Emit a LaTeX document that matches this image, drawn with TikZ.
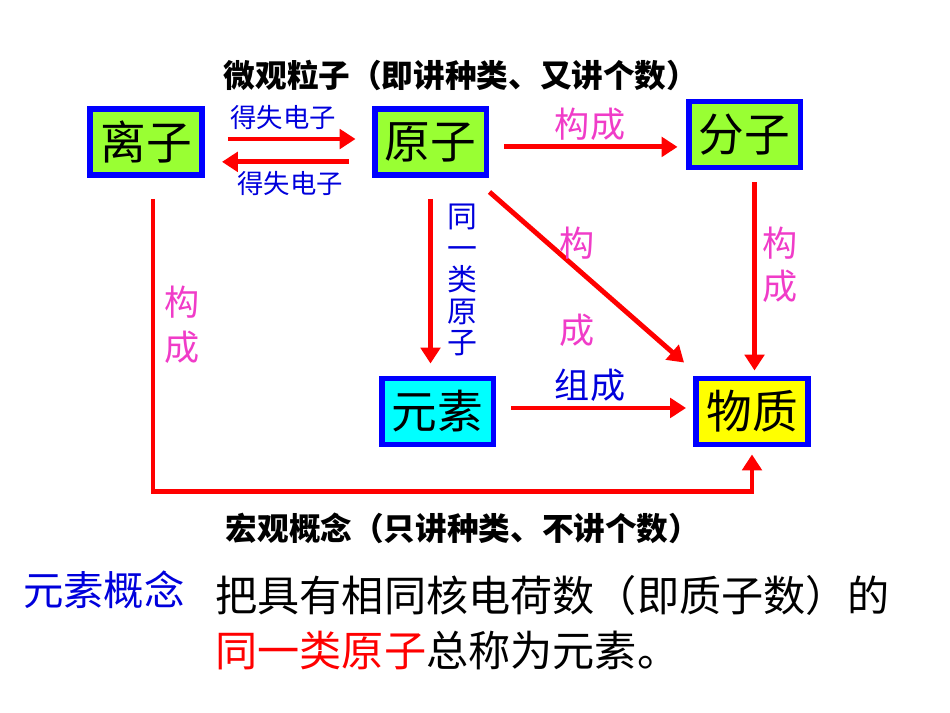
\documentclass[tikz,border=0pt]{standalone}
\usepackage{fontspec}
\setmainfont{Noto Sans CJK SC}
\usepackage{tikz}
\usetikzlibrary{
  arrows.meta,
  positioning,
  calc
}
\definecolor{boxborder}{RGB}{0, 0, 255}
\definecolor{particlecolor}{RGB}{153, 255, 51}
\definecolor{elementcolor}{RGB}{0, 255, 255}
\definecolor{mattercolor}{RGB}{255, 255, 0}
\definecolor{arrowcolor}{RGB}{255, 0, 0}
\definecolor{buildcolor}{RGB}{240, 60, 200}
\definecolor{notecolor}{RGB}{0, 0, 220}
\definecolor{labelcolor}{RGB}{0, 0, 0}
\tikzset{
conceptblock/.style={
  draw=boxborder,
  line width=3.4pt,
  minimum height=1.32cm,
  minimum width=2.24cm,
  inner sep=0pt,
  font=\fontsize{26}{30}\selectfont,
  text=labelcolor
},
particleblock/.style={
  conceptblock,
  fill=particlecolor
},
elementblock/.style={
  conceptblock,
  fill=elementcolor
},
matterblock/.style={
  conceptblock,
  fill=mattercolor
},
titlelabel/.style={
  font=\bfseries\fontsize{18}{21}\selectfont,
  text=labelcolor,
  inner sep=0pt
},
electronlabel/.style={
  font=\fontsize{15}{18}\selectfont,
  text=notecolor,
  inner sep=0pt
},
buildlabel/.style={
  font=\fontsize{20}{24}\selectfont,
  text=buildcolor,
  inner sep=0pt,
  align=center
},
notelabel/.style={
  font=\fontsize{20}{24}\selectfont,
  text=notecolor,
  inner sep=0pt,
  align=center
},
arrow/.style={
  -{Triangle[length=9pt,width=11pt]},
  line width=2.8pt,
  draw=arrowcolor
}
}

\begin{document}
\begin{tikzpicture}[x=0.02cm, y=-0.02cm]
  \useasboundingbox (0,0) rectangle (950,713);

  % concept boxes
  \node[particleblock] (lizi) at (146,142) {离子};
  \node[particleblock] (yuanzi) at (430.5,142) {原子};
  \node[particleblock] (fenzi) at (744.5,134.5) {分子};
  \node[elementblock] (yuansu) at (437.5,411.5) {元素};
  \node[matterblock] (wuzhi) at (752,411.5) {物质};

  % connectors
  \draw[arrow, shorten <=0.46cm, shorten >=0.32cm] ([yshift=1.7pt]lizi.east) -- ([yshift=1.7pt]yuanzi.west);
  \draw[arrow, shorten <=0.46cm, shorten >=0.34cm] ([yshift=-11.3pt]yuanzi.west) -- ([yshift=-11.3pt]lizi.east);
  \coordinate (molstart) at ([yshift=-2.8pt]yuanzi.east);
  \draw[arrow, shorten <=0.3cm, shorten >=0.16cm] (molstart) -- (molstart -| fenzi.west);
  \coordinate (molend) at ([xshift=5.7pt]fenzi.south);
  \draw[arrow, shorten <=0.24cm, shorten >=0.1cm] (molend) -- (molend |- wuzhi.north);
  \draw[arrow, shorten <=0.42cm, shorten >=0.24cm] (yuanzi.south) -- (yuanzi.south |- yuansu.north);
  \draw[arrow] ($(yuanzi.south east)+(0,14)$) -- ($(wuzhi.north west)+(-9,-13)$);
  \coordinate (elemstart) at ([yshift=2pt]yuansu.east);
  \draw[arrow, shorten <=0.3cm, shorten >=0.14cm] (elemstart) -- (elemstart -| wuzhi.west);
  \coordinate (ionstart) at ([xshift=4pt]lizi.south);
  \draw[arrow, shorten <=0.42cm, shorten >=0.14cm] (ionstart) |- ($(wuzhi.south)+(0,44)$) -- (wuzhi.south);

  % labels
  \node[titlelabel] (microtitle) at (461,75) {微观粒子（即讲种类、又讲个数）};
  \node[electronlabel] (gaintop) at (283,117) {得失电子};
  \node[electronlabel] (gainbottom) at (290,183) {得失电子};
  \node[buildlabel] (buildmol) at (590,124) {构成};
  \node[buildlabel, font=\fontsize{20}{24.5}\selectfont] (buildright) at (780,265) {构\\成};
  \node[buildlabel] (buildtop) at (577,243) {构};
  \node[buildlabel] (buildbottom) at (577,330) {成};
  \node[buildlabel, font=\fontsize{20}{25.5}\selectfont] (buildleft) at (182,324.5) {构\\成};
  \node[notelabel, font=\fontsize{17}{17.9}\selectfont] (sameatom) at (462,280) {同\\一\\类\\原\\子};
  \node[notelabel] (compose) at (590,385) {组成};
  \node[titlelabel] (macrotitle) at (463,528) {宏观概念（只讲种类、不讲个数）};

  % definition
  \node[notelabel, font=\fontsize{23}{27}\selectfont] (defname) at (104,590) {元素概念};
  \node[anchor=west, align=left, inner sep=0pt, text=labelcolor,
        font=\fontsize{24}{31}\selectfont] (deftext) at (215,622.5)
    {把具有相同核电荷数（即质子数）的\\\textcolor{arrowcolor}{同一类原子}总称为元素。};
\end{tikzpicture}
\end{document}
